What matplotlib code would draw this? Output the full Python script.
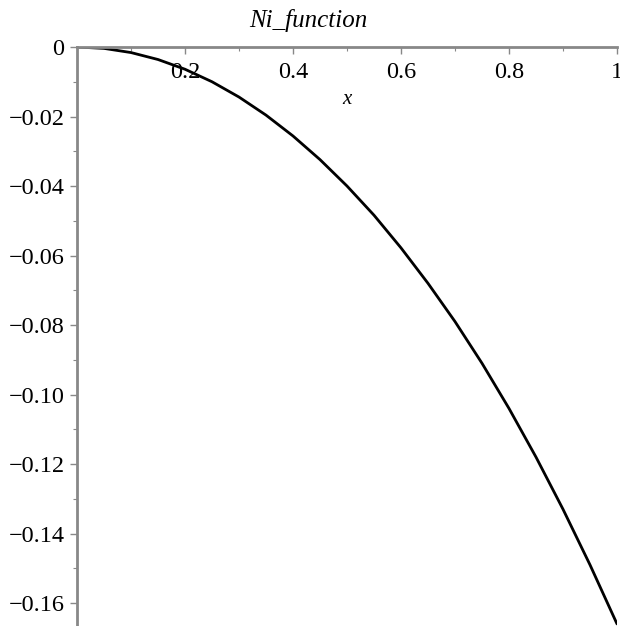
import matplotlib
matplotlib.use("Agg")
import matplotlib.pyplot as plt
from matplotlib.ticker import MultipleLocator, FixedLocator

# Values
x_vals = [0.0, 0.05, 0.1, 0.15, 0.2, 0.25, 0.3, 0.35, 0.4, 0.45, 0.5,
          0.55, 0.6, 0.65, 0.7, 0.75, 0.8, 0.85, 0.9, 0.95, 1.0]
y_vals = [0.0, -0.0004, -0.0016, -0.0036, -0.0064, -0.0100, -0.0144, -0.0196,
          -0.0256, -0.0324, -0.0400, -0.0484, -0.0578, -0.0680, -0.0790,
          -0.0910, -0.1040, -0.1180, -0.1330, -0.1490, -0.1660]

x_ticks = [0.2, 0.4, 0.6, 0.8, 1.0]
x_tick_labels = ["0.2", "0.4", "0.6", "0.8", "1"]
y_ticks = [0.0, -0.02, -0.04, -0.06, -0.08, -0.10, -0.12, -0.14, -0.16]
y_tick_labels = ["0", "\u22120.02", "\u22120.04", "\u22120.06", "\u22120.08",
                 "\u22120.10", "\u22120.12", "\u22120.14", "\u22120.16"]
title = "Ni_function"
xlabel = "x"

plt.rcParams['font.family'] = ['Liberation Serif', 'DejaVu Serif']

W, H = 620, 626
fig = plt.figure(figsize=(W / 100, H / 100), dpi=100)
ax = fig.add_axes([77 / W, 0, 540 / W, (H - 47) / H])

ax.plot(x_vals, y_vals, color='black', lw=2.0, solid_capstyle='round',
        solid_joinstyle='round')

ax.set_xlim(0, 1)
ax.set_ylim(-0.1666, 0)

axis_color = '#888888'
for s in ['top', 'right']:
    ax.spines[s].set_visible(False)
ax.spines['bottom'].set_position(('data', 0))
ax.spines['left'].set_position(('data', 0))
for s in ['bottom', 'left']:
    ax.spines[s].set_color(axis_color)
    ax.spines[s].set_linewidth(2.0)

ax.xaxis.set_major_locator(FixedLocator(x_ticks))
ax.set_xticklabels(x_tick_labels)
ax.xaxis.set_minor_locator(MultipleLocator(0.1))
ax.yaxis.set_major_locator(FixedLocator(y_ticks))
ax.set_yticklabels(y_tick_labels)
ax.yaxis.set_minor_locator(MultipleLocator(0.01))

ax.tick_params(axis='both', which='major', direction='out', length=5,
               width=1.0, color=axis_color, labelsize=17.5, labelcolor='black')
ax.tick_params(axis='both', which='minor', direction='out', length=3,
               width=0.8, color=axis_color)
ax.tick_params(axis='x', which='major', pad=6)
ax.tick_params(axis='y', which='major', pad=4)

fig.text(308 / W, 1 - 20 / H, title, ha='center', va='center',
         fontsize=18, style='italic')
fig.text(347 / W, 1 - 100 / H, xlabel, ha='center', va='center',
         fontsize=15, style='italic')

fig.savefig("out.png", dpi=100)
